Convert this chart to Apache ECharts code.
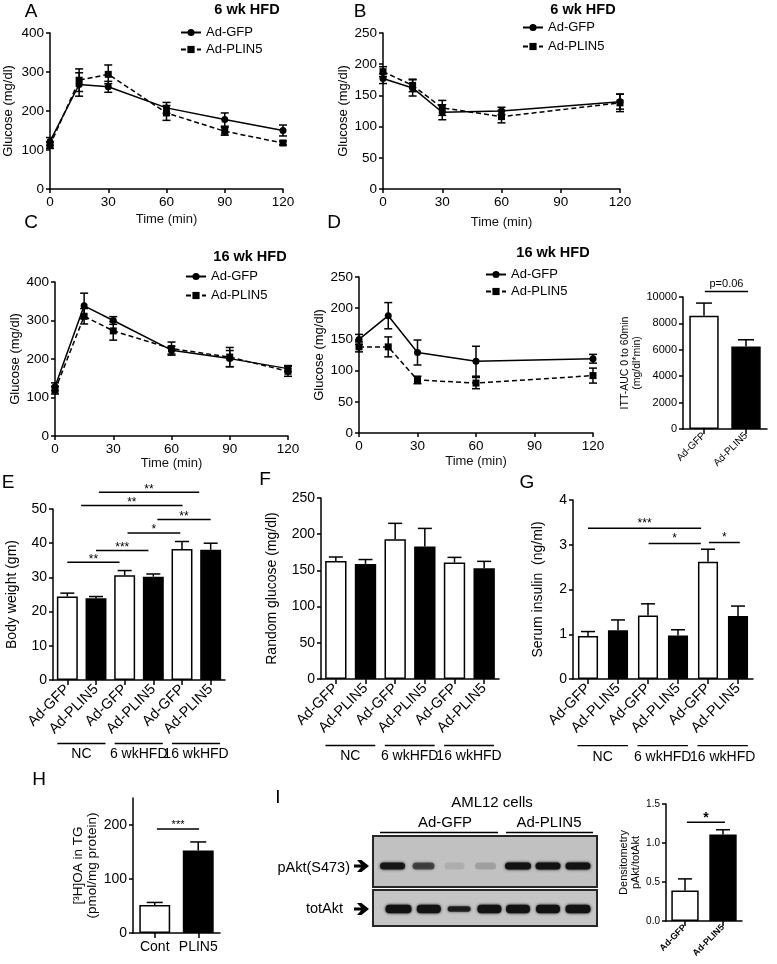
<!DOCTYPE html>
<html><head><meta charset="utf-8">
<script src="https://cdn.jsdelivr.net/npm/echarts@6/dist/echarts.min.js"></script>
<style>html,body{margin:0;padding:0;background:#fff}#c{width:777px;height:964px}</style>
</head><body><div id="c"></div>
<script>
const FONT = '"Liberation Sans", Arial, Helvetica, sans-serif';

// ---------- DATA ----------
const timeA = [0, 15, 30, 60, 90, 120];
const gttA_GFP = [122, 268, 262, 208, 178, 150];
const gttA_GFP_sem = [10, 30, 14, 14, 17, 14];
const gttA_PLIN5 = [112, 279, 294, 195, 148, 118];
const gttA_PLIN5_sem = [8, 29, 24, 19, 10, 5];

const timeB = [0, 15, 30, 60, 120];
const ittB_GFP = [177, 162, 123, 125, 140];
const ittB_GFP_sem = [8, 13, 12, 6, 12];
const ittB_PLIN5 = [188, 166, 130, 116, 138];
const ittB_PLIN5_sem = [8, 10, 12, 10, 14];

const timeC = [0, 15, 30, 60, 90, 120];
const gttC_GFP = [128, 338, 300, 223, 201, 175];
const gttC_GFP_sem = [10, 33, 10, 10, 21, 8];
const gttC_PLIN5 = [119, 311, 273, 227, 205, 168];
const gttC_PLIN5_sem = [10, 20, 24, 17, 25, 13];

const timeD = [0, 15, 30, 60, 120];
const ittD_GFP = [150, 188, 129, 115, 119];
const ittD_GFP_sem = [8, 21, 20, 24, 7];
const ittD_PLIN5 = [138, 138, 85, 80, 92];
const ittD_PLIN5_sem = [8, 16, 6, 9, 12];

const aucCategories = ['Ad-GFP', 'Ad-PLIN5'];
const aucValues = [8580, 6250];
const aucSem = [960, 510];

const groupCategories = ['Ad-GFP', 'Ad-PLIN5', 'Ad-GFP', 'Ad-PLIN5', 'Ad-GFP', 'Ad-PLIN5'];
const groupLabels = ['NC', '6 wkHFD', '16 wkHFD'];
const bodyWeight = [24.4, 23.9, 30.6, 30.2, 38.3, 38.1];
const bodyWeightSem = [1.0, 0.5, 1.4, 0.8, 2.2, 1.9];
const randomGlucose = [163, 159, 193, 183, 161, 153];
const randomGlucoseSem = [5.5, 6, 22, 25, 7, 9.5];
const serumInsulin = [0.96, 1.09, 1.42, 0.97, 2.62, 1.41];
const serumInsulinSem = [0.10, 0.23, 0.26, 0.13, 0.28, 0.22];

const oaCategories = ['Cont', 'PLIN5'];
const oaTG = [51.7, 152.6];
const oaTGSem = [4.9, 16];

const densCategories = ['Ad-GFP', 'Ad-PLIN5'];
const densitometry = [0.39, 1.11];
const densitometrySem = [0.15, 0.06];

// significance: [fromCat, toCat, yValue, label]
const sigE = [[0, 1.82, 34.4, '**'], [1, 2.83, 37.9, '***'], [2.1, 3.94, 43.0, '*'], [3.14, 5.0, 46.9, '**'], [0.48, 4.02, 51.0, '**'], [1.1, 4.6, 54.9, '**']];
const sigG = [[0, 3.77, 3.37, '***'], [2.02, 3.76, 3.03, '*'], [4.03, 5.06, 3.05, '*']];
const sigH = [[0.05, 1.02, 192.5, '***']];
const sigAUC = [[0.02, 1.05, 10425, 'p=0.06']];
const sigDens = [[0.05, 1.05, 1.266, '*']];

// western blot band intensities (0..1)
const pAktBands = [0.92, 0.62, 0.10, 0.17, 1, 1, 1];
const totAktBands = [1, 1, 0.85, 1, 1, 1, 1];

// ---------- HELPERS ----------
const BLACK = '#000';
const AL = { show: true, onZero: true, lineStyle: { color: BLACK, width: 1.5 } };
const AT = { show: true, length: 4, lineStyle: { color: BLACK, width: 1.5 } };
const fills = ['#fff', '#000', '#fff', '#000', '#fff', '#000'];

function valX(gi, nameGap) {
  return { type: 'value', gridIndex: gi, min: 0, max: 120, interval: 30,
    name: 'Time (min)', nameLocation: 'middle', nameGap,
    nameTextStyle: { fontSize: 13, color: '#111', fontFamily: FONT, fontWeight: 400 },
    axisLine: AL, axisTick: AT, splitLine: { show: false },
    axisLabel: { fontSize: 13.5, color: BLACK, margin: 6, fontFamily: FONT } };
}
function valY(gi, max, interval, name, nameGap, fs, nfs, extra) {
  const o = { type: 'value', gridIndex: gi, min: 0, max, interval,
    name, nameLocation: 'middle', nameGap,
    nameTextStyle: { fontSize: nfs, color: BLACK, fontFamily: FONT, fontWeight: 400, lineHeight: nfs + 1 },
    axisLine: AL, axisTick: AT, splitLine: { show: false },
    axisLabel: { fontSize: fs, color: BLACK, margin: 6, fontFamily: FONT, formatter: v => String(v) } };
  return Object.assign(o, extra || {});
}
function catX(gi, data, rotate, fs, bold, margin) {
  return { type: 'category', gridIndex: gi, data,
    axisLine: AL, axisTick: Object.assign({ alignWithLabel: true }, AT, { length: 5 }),
    splitLine: { show: false },
    axisLabel: { rotate, fontSize: fs, color: BLACK, margin, fontFamily: FONT, interval: 0,
      fontWeight: bold ? 'bold' : 'normal' } };
}
function errSeries(gi, xs, means, sems, both, capW) {
  return { type: 'custom', xAxisIndex: gi, yAxisIndex: gi, silent: true, z: 4,
    data: xs.map((x, i) => [x, both ? means[i] - sems[i] : means[i], means[i] + sems[i]]),
    encode: { x: 0, y: [1, 2] },
    renderItem: (params, api) => {
      const x = api.value(0);
      const lo = api.coord([x, api.value(1)]);
      const hi = api.coord([x, api.value(2)]);
      const st = { stroke: BLACK, lineWidth: 1.5 };
      const ch = [
        { type: 'line', shape: { x1: lo[0], y1: lo[1], x2: hi[0], y2: hi[1] }, style: st },
        { type: 'line', shape: { x1: hi[0] - capW, y1: hi[1], x2: hi[0] + capW, y2: hi[1] }, style: st }
      ];
      if (both) ch.push({ type: 'line', shape: { x1: lo[0] - capW, y1: lo[1], x2: lo[0] + capW, y2: lo[1] }, style: st });
      return { type: 'group', children: ch };
    } };
}
function linePanel(gi, t, g, gs, p, ps) {
  return [
    { type: 'line', name: 'Ad-GFP', xAxisIndex: gi, yAxisIndex: gi, data: t.map((x, i) => [x, g[i]]),
      symbol: 'circle', symbolSize: 7, lineStyle: { color: BLACK, width: 1.5 }, itemStyle: { color: BLACK }, z: 3, silent: true },
    { type: 'line', name: 'Ad-PLIN5', xAxisIndex: gi, yAxisIndex: gi, data: t.map((x, i) => [x, p[i]]),
      symbol: 'rect', symbolSize: 7, lineStyle: { color: BLACK, width: 1.5, type: [5, 3] }, itemStyle: { color: BLACK }, z: 3, silent: true },
    errSeries(gi, t, g, gs, true, 4),
    errSeries(gi, t, p, ps, true, 4)
  ];
}
function barPanel(gi, vals, sems, barWidth, capW) {
  return [
    { type: 'bar', name: 'bars' + gi, xAxisIndex: gi, yAxisIndex: gi, barWidth, silent: true,
      data: vals.map((v, i) => ({ value: v, itemStyle: { color: fills[i], borderColor: BLACK, borderWidth: 1.5 } })) },
    errSeries(gi, vals.map((_, i) => i), vals, sems, false, capW)
  ];
}
function sigSeries(gi, sigs, fs, textOffset, bold) {
  return { type: 'custom', xAxisIndex: gi, yAxisIndex: gi, silent: true, z: 5,
    data: sigs.map(s => [0, s[2]]),
    renderItem: (params, api) => {
      const s = sigs[params.dataIndex];
      const band = api.size([1, 0])[0];
      const p = api.coord([0, s[2]]);
      const x1 = p[0] + s[0] * band, x2 = p[0] + s[1] * band, y = p[1];
      return { type: 'group', children: [
        { type: 'line', shape: { x1, y1: y, x2, y2: y }, style: { stroke: BLACK, lineWidth: 1.5 } },
        { type: 'text', x: (x1 + x2) / 2, y: y - textOffset,
          style: { text: s[3], fontSize: fs, fontFamily: FONT, fill: BLACK, align: 'center', verticalAlign: 'middle', fontWeight: bold ? 'bold' : 'normal' } }
      ] };
    } };
}
function groupSeries(gi, offset) {
  return { type: 'custom', xAxisIndex: gi, yAxisIndex: gi, silent: true,
    data: groupLabels.map((g, i) => [i * 2, 0]),
    renderItem: (params, api) => {
      const i = params.dataIndex;
      const band = api.size([1, 0])[0];
      const a = api.coord([i * 2, 0]), b = api.coord([i * 2 + 1, 0]);
      const cs = params.coordSys;
      const y = cs.y + cs.height + offset;
      const x1 = a[0] - 0.35 * band, x2 = b[0] + 0.33 * band;
      return { type: 'group', children: [
        { type: 'line', shape: { x1, y1: y, x2, y2: y }, style: { stroke: BLACK, lineWidth: 1.3 } },
        { type: 'text', x: (x1 + x2) / 2, y: y + 11,
          style: { text: groupLabels[i], fontSize: 14, fontFamily: FONT, fill: BLACK, align: 'center', verticalAlign: 'middle' } }
      ] };
    } };
}
function txt(text, x, y, fs, opts) {
  return Object.assign({ type: 'text', x, y, silent: true,
    style: Object.assign({ text, fontSize: fs, fontFamily: FONT, fill: BLACK, align: 'center', verticalAlign: 'middle' }, (opts || {})) });
}
function legendAt(left, top, gap) {
  return { data: ['Ad-GFP', 'Ad-PLIN5'], orient: 'vertical', left, top, itemWidth: 20, itemHeight: 9,
    itemGap: gap, selectedMode: false, textStyle: { fontSize: 13, color: BLACK, fontFamily: FONT }, padding: 0 };
}

// ---------- WESTERN BLOT (graphic) ----------
const blot = [];
blot.push({ type: 'rect', shape: { x: 373, y: 836, width: 224, height: 51 }, style: { fill: '#c1c1c1', stroke: '#262626', lineWidth: 2 } });
blot.push({ type: 'rect', shape: { x: 373, y: 890, width: 224, height: 36 }, style: { fill: '#c5c5c5', stroke: '#262626', lineWidth: 2 } });
const pLaneX = i => (i < 4 ? 392.5 + i * 31 : 518 + (i - 4) * 30);
const tLaneX = i => (i < 4 ? 398.5 + i * 30.3 : 518 + (i - 4) * 30);
const pW = [25, 22, 20, 21, 26, 25, 25];
const tW = [26, 24, 23, 24, 24, 24, 25];
pAktBands.forEach((a, i) => {
  const cx = pLaneX(i), w = pW[i];
  blot.push({ type: 'rect', shape: { x: cx - w / 2, y: 866 - 3.5, width: w, height: 7, r: 3.5 },
    style: { fill: 'rgba(18,18,18,' + a + ')', shadowBlur: 3, shadowColor: 'rgba(18,18,18,' + a + ')' } });
});
totAktBands.forEach((a, i) => {
  const cx = tLaneX(i), w = tW[i], h = i === 2 ? 5.5 : 8.5;
  blot.push({ type: 'rect', shape: { x: cx - w / 2, y: 909 - h / 2, width: w, height: h, r: 4 },
    style: { fill: 'rgba(18,18,18,' + a + ')', shadowBlur: 3, shadowColor: 'rgba(18,18,18,' + a + ')' } });
});
function arrow(y) {
  return { type: 'polygon', silent: true, shape: { points: [[354, y - 1.6], [361, y - 1.6], [357, y - 6], [361.5, y - 6], [369, y], [361.5, y + 6], [357, y + 6], [361, y + 1.6], [354, y + 1.6]] }, style: { fill: BLACK } };
}
const lineG = (x1, x2, y) => ({ type: 'line', silent: true, shape: { x1, y1: y, x2, y2: y }, style: { stroke: BLACK, lineWidth: 1.5 } });

const graphics = [
  txt('A', 31, 12, 19), txt('B', 360, 12, 19), txt('C', 31, 223, 19), txt('D', 334, 223, 19),
  txt('E', 8, 483, 19), txt('F', 265, 480, 19), txt('G', 527, 483, 19), txt('H', 39, 780, 19), txt('I', 278, 798, 19),
  txt('6 wk HFD', 247, 10, 14.5, { fontWeight: 'bold' }),
  txt('6 wk HFD', 583, 10, 14.5, { fontWeight: 'bold' }),
  txt('16 wk HFD', 250, 257, 14.5, { fontWeight: 'bold' }),
  txt('16 wk HFD', 553, 253, 14.5, { fontWeight: 'bold' }),
  txt('AML12 cells', 492, 803, 15), txt('Ad-GFP', 445, 823, 15), txt('Ad-PLIN5', 549, 823, 15),
  lineG(380, 498, 832.5), lineG(506, 593, 832.5),
  txt('pAkt(S473)', 350, 868, 14.5, { align: 'right' }), txt('totAkt', 343, 909, 14.5, { align: 'right' }),
  arrow(866), arrow(909)
].concat(blot);

// ---------- OPTION ----------
const option = {
  animation: false,
  backgroundColor: '#fff',
  textStyle: { fontFamily: FONT, color: BLACK },
  grid: [
    { left: 49, top: 33, width: 234, height: 156 },
    { left: 383, top: 33, width: 237, height: 156 },
    { left: 55, top: 282, width: 233, height: 154 },
    { left: 359, top: 277, width: 234, height: 156 },
    { left: 683, top: 297, width: 84, height: 132 },
    { left: 53, top: 509, width: 172, height: 171 },
    { left: 321, top: 498, width: 178, height: 181 },
    { left: 573, top: 500, width: 180, height: 179 },
    { left: 133, top: 798, width: 87, height: 135 },
    { left: 666, top: 804, width: 76, height: 117 }
  ],
  xAxis: [
    valX(0, 24), valX(1, 27), valX(2, 20), valX(3, 22),
    catX(4, aucCategories, 45, 10, false, 5),
    catX(5, groupCategories, 45, 14.5, false, 7),
    catX(6, groupCategories, 45, 14.5, false, 7),
    catX(7, groupCategories, 45, 14.5, false, 7),
    catX(8, oaCategories, 0, 14, false, 7),
    catX(9, densCategories, 45, 9, true, 5)
  ],
  yAxis: [
    valY(0, 400, 100, 'Glucose (mg/dl)', 35, 13.5, 13),
    valY(1, 250, 50, 'Glucose (mg/dl)', 33, 13.5, 13),
    valY(2, 400, 100, 'Glucose (mg/dl)', 30, 13.5, 13),
    valY(3, 250, 50, 'Glucose (mg/dl)', 33, 13.5, 13),
    valY(4, 10000, 2000, 'ITT-AUC 0 to 60min\n(mg/dl*min)', 40, 11, 10.5),
    valY(5, 50, 10, 'Body weight (gm)', 33, 14, 14),
    valY(6, 250, 50, 'Random glucose (mg/dl)', 41, 14, 14),
    valY(7, 4, 1, 'Serum insulin  (ng/ml)', 27, 14, 14),
    valY(8, 250, 100, '[³H]OA in TG\n(pmol/mg protein)', 31, 14, 13.5, {
      axisTick: Object.assign({}, AT, { customValues: [0, 100, 200] }),
      axisLabel: { fontSize: 14, color: BLACK, margin: 6, fontFamily: FONT, customValues: [0, 100, 200] } }),
    valY(9, 1.5, 0.5, 'Densitometry\npAkt/totAkt', 17, 10, 11, {
      axisLabel: { fontSize: 10, color: BLACK, margin: 6, fontFamily: FONT, formatter: v => v.toFixed(1) } })
  ],
  legend: [legendAt(180, 26, 4), legendAt(522, 21, 6), legendAt(185, 270, 6), legendAt(485, 268, 4)],
  series: [].concat(
    linePanel(0, timeA, gttA_GFP, gttA_GFP_sem, gttA_PLIN5, gttA_PLIN5_sem),
    linePanel(1, timeB, ittB_GFP, ittB_GFP_sem, ittB_PLIN5, ittB_PLIN5_sem),
    linePanel(2, timeC, gttC_GFP, gttC_GFP_sem, gttC_PLIN5, gttC_PLIN5_sem),
    linePanel(3, timeD, ittD_GFP, ittD_GFP_sem, ittD_PLIN5, ittD_PLIN5_sem),
    barPanel(4, aucValues, aucSem, '70%', 8),
    barPanel(5, bodyWeight, bodyWeightSem, '73%', 7),
    barPanel(6, randomGlucose, randomGlucoseSem, '72%', 7),
    barPanel(7, serumInsulin, serumInsulinSem, '67%', 7),
    barPanel(8, oaTG, oaTGSem, '71%', 8),
    barPanel(9, densitometry, densitometrySem, '72%', 7),
    [sigSeries(4, sigAUC, 11, 7, false), sigSeries(5, sigE, 12, 3, false), sigSeries(7, sigG, 12, 5, false),
     sigSeries(8, sigH, 11, 4, false), sigSeries(9, sigDens, 14, 4, true)],
    [groupSeries(5, 63.5), groupSeries(6, 66.5), groupSeries(7, 66.7)]
  ),
  graphic: graphics
};

const chart = echarts.init(document.getElementById('c'), null, { renderer: 'canvas' });
chart.setOption(option);
</script>
</body></html>
